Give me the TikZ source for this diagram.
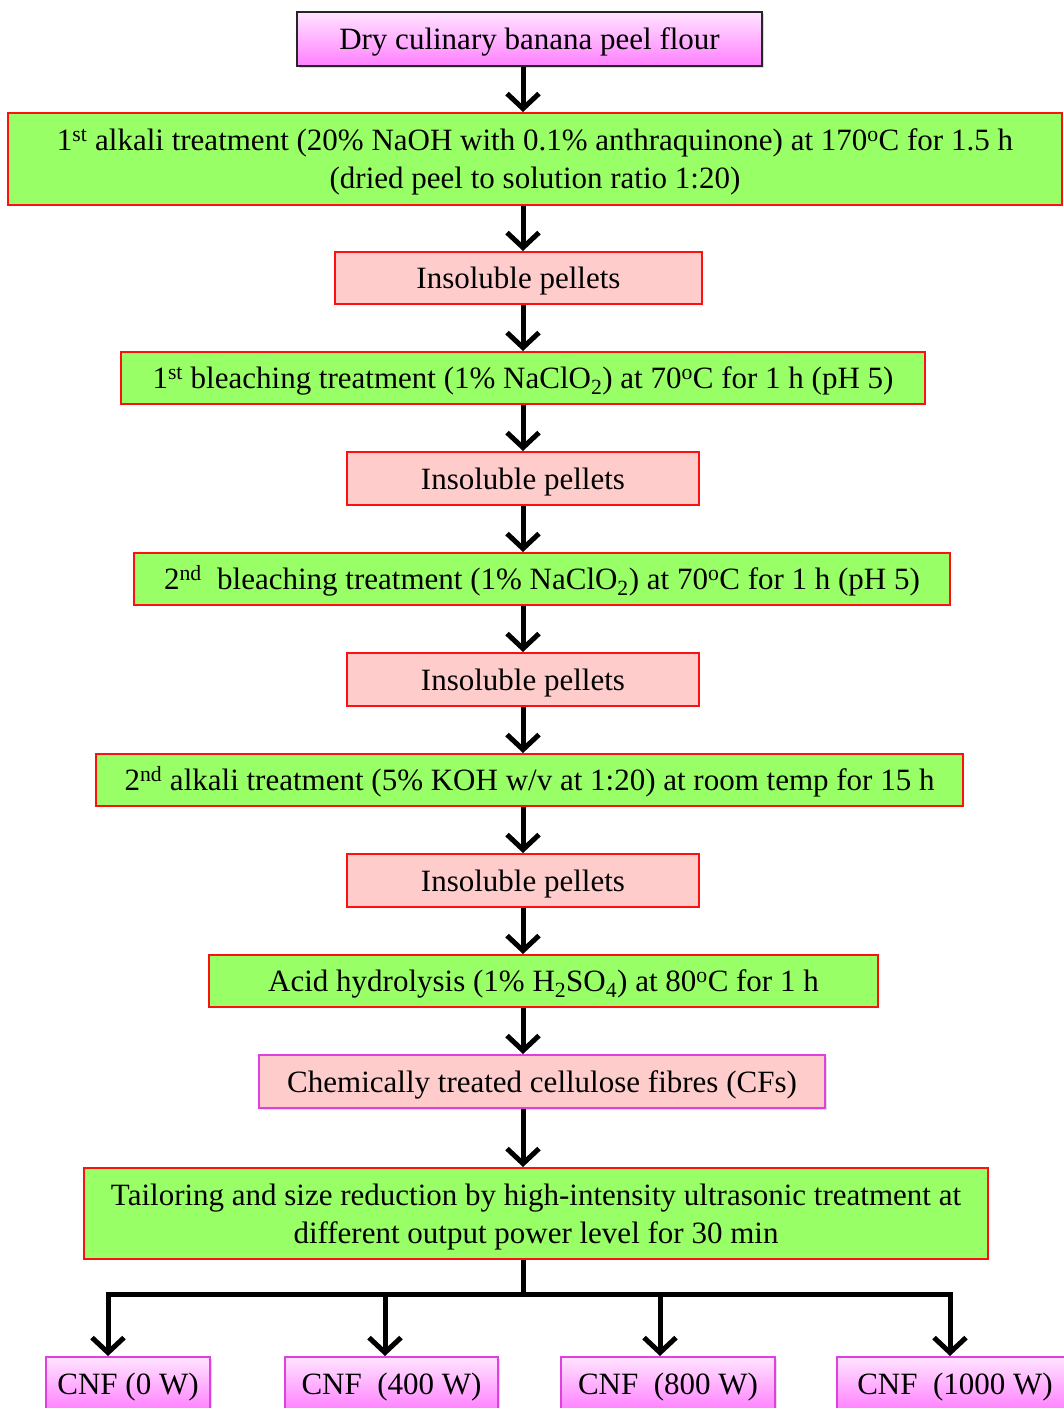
\documentclass[tikz,border=0pt]{standalone}
\usepackage{fontspec}
\setmainfont{Liberation Serif}
\usetikzlibrary{arrows.meta,shadows}
\definecolor{boxgreen}{HTML}{99FF66}
\definecolor{boxpink}{HTML}{FFCCCC}
\definecolor{boxred}{HTML}{FF1010}
\definecolor{boxmag}{HTML}{E040E0}
\definecolor{magtop}{HTML}{FFE4FF}
\definecolor{magbot}{HTML}{FF80FF}
\newcommand{\topstrut}{\rule{0pt}{29pt}}
\newcommand{\botstrut}{\rule[-8pt]{0pt}{8pt}}
\begin{document}
\begin{tikzpicture}[x=1pt,y=-1pt,
  base/.style={rectangle, inner sep=0pt, align=center, font=\fontsize{31}{38}\selectfont},
  one/.style={text height=29pt, text depth=8pt},
  greenbox/.style={base, fill=boxgreen, draw=boxred, line width=2pt},
  pinkbox/.style={base, one, fill=boxpink, draw=boxred, line width=2pt},
  cfbox/.style={base, one, fill=boxpink, draw=boxmag, line width=2pt,
    drop shadow={opacity=0.25, shadow xshift=2pt, shadow yshift=-2pt}},
  magbox/.style={base, one, top color=magtop, bottom color=magbot, draw=boxmag, line width=2pt,
    drop shadow={opacity=0.25, shadow xshift=2pt, shadow yshift=-2pt}},
  topbox/.style={base, one, top color=magtop, bottom color=magbot, draw=black!85, line width=2pt,
    drop shadow={opacity=0.3, shadow xshift=2pt, shadow yshift=-2pt}},
  arr/.style={line width=5pt, -{Straight Barb[length=15pt, width=32pt, line width=5pt]}},
  bar/.style={line width=5pt}
]
\clip (0,0) rectangle (1064,1408);
\fill[white] (0,0) rectangle (1064,1408);
\coordinate (spine) at (523,0);

\node[topbox, minimum width=465, minimum height=54] (b1) at (529.5,39) {Dry culinary banana peel flour};
\node[greenbox, minimum width=1054, minimum height=92] (b2) at (535,159)
  {\topstrut1\textsuperscript{st} alkali treatment (20\% NaOH with 0.1\% anthraquinone) at 170\textsuperscript{o}C for 1.5 h\\(dried peel to solution ratio 1:20)\botstrut};
\node[pinkbox, minimum width=367, minimum height=52] (b3) at (518.5,278) {Insoluble pellets};
\node[greenbox, one, minimum width=804, minimum height=52] (b4) at (523,378)
  {1\textsuperscript{st} bleaching treatment (1\% NaClO\textsubscript{2}) at 70\textsuperscript{o}C for 1 h (pH 5)};
\node[pinkbox, minimum width=352, minimum height=53] (b5) at (523,478.5) {Insoluble pellets};
\node[greenbox, one, minimum width=816, minimum height=52] (b6) at (542,579)
  {2\textsuperscript{nd}\ \ bleaching treatment (1\% NaClO\textsubscript{2}) at 70\textsuperscript{o}C for 1 h (pH 5)};
\node[pinkbox, minimum width=352, minimum height=53] (b7) at (523,679.5) {Insoluble pellets};
\node[greenbox, one, minimum width=867, minimum height=52] (b8) at (529.5,780)
  {2\textsuperscript{nd} alkali treatment (5\% KOH w/v at 1:20) at room temp for 15 h};
\node[pinkbox, minimum width=352, minimum height=53] (b9) at (523,880.5) {Insoluble pellets};
\node[greenbox, one, minimum width=669, minimum height=52] (b10) at (543.5,981)
  {Acid hydrolysis (1\% H\textsubscript{2}SO\textsubscript{4}) at 80\textsuperscript{o}C for 1 h};
\node[cfbox, minimum width=566, minimum height=53] (b11) at (542,1081.5) {Chemically treated cellulose fibres (CFs)};
\node[greenbox, minimum width=904, minimum height=91] (b12) at (536,1213.5)
  {\topstrut Tailoring and size reduction by high-intensity ultrasonic treatment at\\different output power level for 30 min\botstrut};

\node[magbox, minimum width=164, minimum height=54] (c1) at (128,1384) {CNF (0 W)};
\node[magbox, minimum width=213, minimum height=54] (c2) at (391.5,1384) {CNF\ \ (400 W)};
\node[magbox, minimum width=214, minimum height=54] (c3) at (668,1384) {CNF\ \ (800 W)};
\node[magbox, minimum width=236, minimum height=54] (c4) at (955,1384) {CNF\ \ (1000 W)};

\foreach \a/\b in {b1/b2,b2/b3,b3/b4,b4/b5,b5/b6,b6/b7,b7/b8,b8/b9,b9/b10,b10/b11,b11/b12}
  \draw[arr] (\a.south -| spine) -- (\b.north -| spine);

\coordinate (j) at (523,1294);
\coordinate (x1) at (108,0);
\coordinate (x2) at (385,0);
\coordinate (x3) at (660,0);
\coordinate (x4) at (950,0);
\draw[bar] (b12.south -| spine) -- (j);
\draw[bar, line cap=rect] (j -| x1) -- (j -| x4);
\draw[arr] (j -| x1) -- (c1.north -| x1);
\draw[arr] (j -| x2) -- (c2.north -| x2);
\draw[arr] (j -| x3) -- (c3.north -| x3);
\draw[arr] (j -| x4) -- (c4.north -| x4);
\end{tikzpicture}
\end{document}
